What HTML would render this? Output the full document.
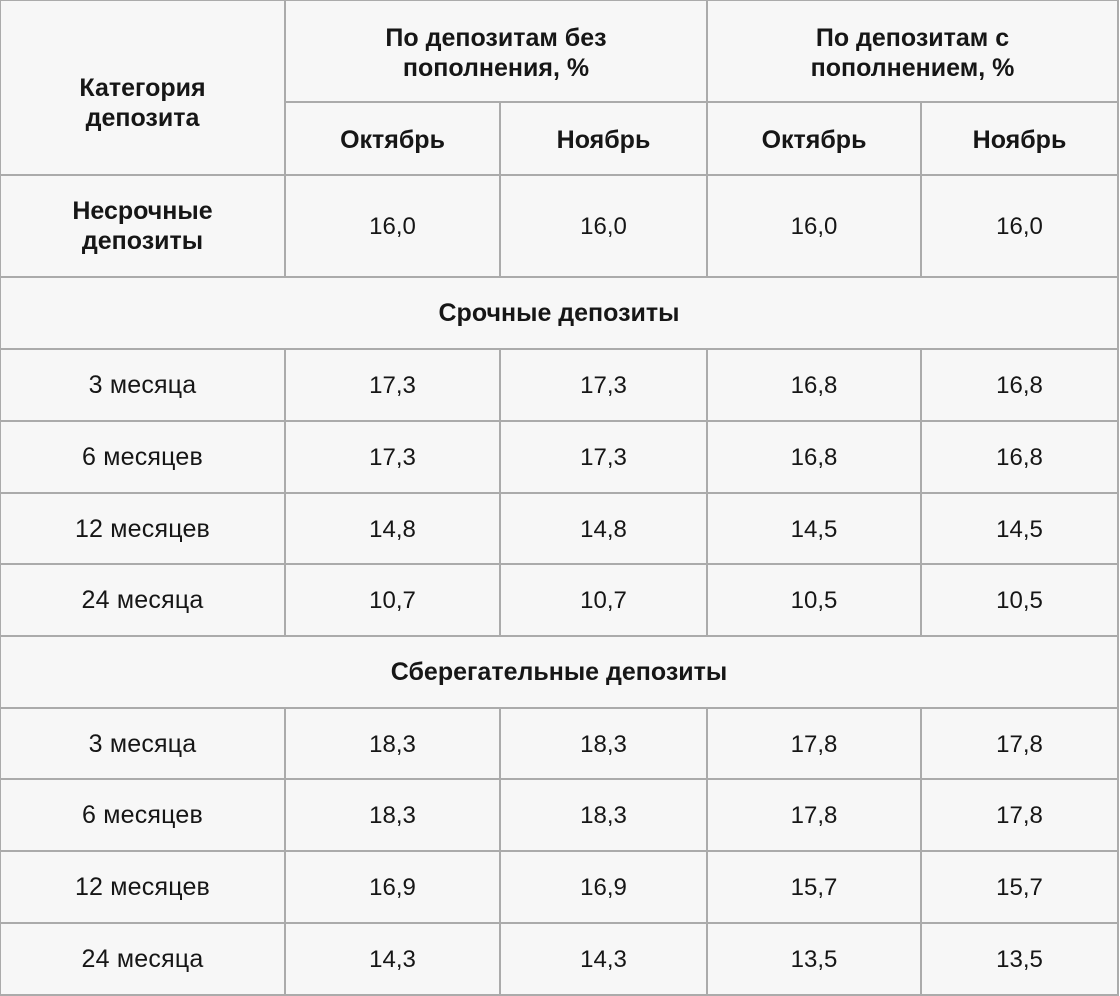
<!DOCTYPE html>
<html><head><meta charset="utf-8">
<style>
html,body{margin:0;padding:0;background:#fff;}
#w{position:relative;width:1120px;height:996px;overflow:hidden;background:#fff;
font-family:"Liberation Sans","DejaVu Sans",sans-serif;color:#161616;}
.bg{position:absolute;left:0;top:0;width:1119px;height:996px;background:#f7f7f7;}
.h{position:absolute;height:2px;background:#ababab;}
.v{position:absolute;width:2px;background:#ababab;}
.c{position:absolute;display:flex;align-items:center;justify-content:center;text-align:center;font-size:24px;line-height:30px;}
.t{font-size:25px;letter-spacing:0.2px;}
.b{font-weight:bold;font-size:25px;}
</style></head><body>
<div id="w">
<div class="bg"></div>

<div class="h" style="left:0;top:0;width:1119px;height:1px"></div>
<div class="h" style="left:285px;top:101px;width:834px"></div>
<div class="h" style="left:0;top:174px;width:1119px"></div>
<div class="h" style="left:0;top:276px;width:1119px"></div>
<div class="h" style="left:0;top:348px;width:1119px"></div>
<div class="h" style="left:0;top:420px;width:1119px"></div>
<div class="h" style="left:0;top:492px;width:1119px"></div>
<div class="h" style="left:0;top:563px;width:1119px"></div>
<div class="h" style="left:0;top:635px;width:1119px"></div>
<div class="h" style="left:0;top:707px;width:1119px"></div>
<div class="h" style="left:0;top:778px;width:1119px"></div>
<div class="h" style="left:0;top:850px;width:1119px"></div>
<div class="h" style="left:0;top:922px;width:1119px"></div>
<div class="h" style="left:0;top:994px;width:1119px"></div>

<div class="v" style="left:0;top:0;height:996px;width:1px"></div>
<div class="v" style="left:1117px;top:0;height:996px"></div>
<div class="v" style="left:284px;top:0;height:277px"></div>
<div class="v" style="left:706px;top:0;height:277px"></div>
<div class="v" style="left:499px;top:101px;height:176px"></div>
<div class="v" style="left:920px;top:101px;height:176px"></div>
<div class="v" style="left:284px;top:348px;height:288px"></div>
<div class="v" style="left:499px;top:348px;height:288px"></div>
<div class="v" style="left:706px;top:348px;height:288px"></div>
<div class="v" style="left:920px;top:348px;height:288px"></div>
<div class="v" style="left:284px;top:707px;height:289px"></div>
<div class="v" style="left:499px;top:707px;height:289px"></div>
<div class="v" style="left:706px;top:707px;height:289px"></div>
<div class="v" style="left:920px;top:707px;height:289px"></div>

<div class="c b" style="left:1px;top:31px;width:283px;height:143px">Категория<br>депозита</div>
<div class="c b" style="left:286px;top:3px;width:420px;height:100px">По депозитам без<br>пополнения, %</div>
<div class="c b" style="left:708px;top:3px;width:409px;height:100px">По депозитам с<br>пополнением, %</div>
<div class="c b" style="left:286px;top:104px;width:213px;height:71px">Октябрь</div>
<div class="c b" style="left:501px;top:104px;width:205px;height:71px">Ноябрь</div>
<div class="c b" style="left:708px;top:104px;width:212px;height:71px">Октябрь</div>
<div class="c b" style="left:922px;top:104px;width:195px;height:71px">Ноябрь</div>

<div class="c b" style="left:1px;top:176px;width:283px;height:100px">Несрочные<br>депозиты</div>
<div class="c" style="left:286px;top:177px;width:213px;height:100px">16,0</div>
<div class="c" style="left:501px;top:177px;width:205px;height:100px">16,0</div>
<div class="c" style="left:708px;top:177px;width:212px;height:100px">16,0</div>
<div class="c" style="left:922px;top:177px;width:195px;height:100px">16,0</div>

<div class="c b" style="left:1px;top:278px;width:1116px;height:70px">Срочные депозиты</div>

<div class="c t" style="left:1px;top:350px;width:283px;height:70px">3 месяца</div>
<div class="c" style="left:286px;top:351px;width:213px;height:70px">17,3</div>
<div class="c" style="left:501px;top:351px;width:205px;height:70px">17,3</div>
<div class="c" style="left:708px;top:351px;width:212px;height:70px">16,8</div>
<div class="c" style="left:922px;top:351px;width:195px;height:70px">16,8</div>

<div class="c t" style="left:1px;top:422px;width:283px;height:70px">6 месяцев</div>
<div class="c" style="left:286px;top:423px;width:213px;height:70px">17,3</div>
<div class="c" style="left:501px;top:423px;width:205px;height:70px">17,3</div>
<div class="c" style="left:708px;top:423px;width:212px;height:70px">16,8</div>
<div class="c" style="left:922px;top:423px;width:195px;height:70px">16,8</div>

<div class="c t" style="left:1px;top:494px;width:283px;height:69px">12 месяцев</div>
<div class="c" style="left:286px;top:495px;width:213px;height:69px">14,8</div>
<div class="c" style="left:501px;top:495px;width:205px;height:69px">14,8</div>
<div class="c" style="left:708px;top:495px;width:212px;height:69px">14,5</div>
<div class="c" style="left:922px;top:495px;width:195px;height:69px">14,5</div>

<div class="c t" style="left:1px;top:565px;width:283px;height:70px">24 месяца</div>
<div class="c" style="left:286px;top:566px;width:213px;height:70px">10,7</div>
<div class="c" style="left:501px;top:566px;width:205px;height:70px">10,7</div>
<div class="c" style="left:708px;top:566px;width:212px;height:70px">10,5</div>
<div class="c" style="left:922px;top:566px;width:195px;height:70px">10,5</div>

<div class="c b" style="left:1px;top:637px;width:1116px;height:70px">Сберегательные депозиты</div>

<div class="c t" style="left:1px;top:709px;width:283px;height:69px">3 месяца</div>
<div class="c" style="left:286px;top:710px;width:213px;height:69px">18,3</div>
<div class="c" style="left:501px;top:710px;width:205px;height:69px">18,3</div>
<div class="c" style="left:708px;top:710px;width:212px;height:69px">17,8</div>
<div class="c" style="left:922px;top:710px;width:195px;height:69px">17,8</div>

<div class="c t" style="left:1px;top:780px;width:283px;height:70px">6 месяцев</div>
<div class="c" style="left:286px;top:781px;width:213px;height:70px">18,3</div>
<div class="c" style="left:501px;top:781px;width:205px;height:70px">18,3</div>
<div class="c" style="left:708px;top:781px;width:212px;height:70px">17,8</div>
<div class="c" style="left:922px;top:781px;width:195px;height:70px">17,8</div>

<div class="c t" style="left:1px;top:852px;width:283px;height:70px">12 месяцев</div>
<div class="c" style="left:286px;top:853px;width:213px;height:70px">16,9</div>
<div class="c" style="left:501px;top:853px;width:205px;height:70px">16,9</div>
<div class="c" style="left:708px;top:853px;width:212px;height:70px">15,7</div>
<div class="c" style="left:922px;top:853px;width:195px;height:70px">15,7</div>

<div class="c t" style="left:1px;top:924px;width:283px;height:70px">24 месяца</div>
<div class="c" style="left:286px;top:925px;width:213px;height:70px">14,3</div>
<div class="c" style="left:501px;top:925px;width:205px;height:70px">14,3</div>
<div class="c" style="left:708px;top:925px;width:212px;height:70px">13,5</div>
<div class="c" style="left:922px;top:925px;width:195px;height:70px">13,5</div>
</div>
</body></html>
